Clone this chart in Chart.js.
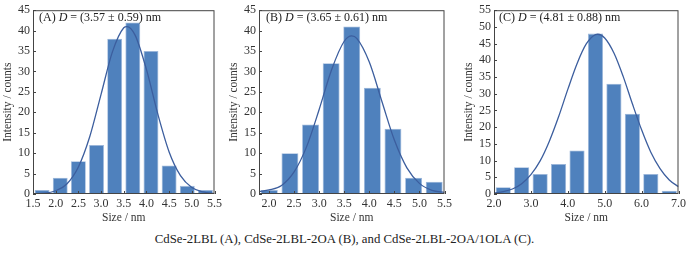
<!DOCTYPE html>
<html>
<head>
<meta charset="utf-8">
<script src="https://cdn.jsdelivr.net/npm/chart.js@4.4.0/dist/chart.umd.min.js"></script>
<style>
  body { margin: 0; background: #fff; }
  #wrap { position: relative; width: 689px; height: 257px; font-family: 'Liberation Serif', serif; color: #222; }
  .panel { position: absolute; top: 0; height: 230px; }
  .note { position: absolute; top: 10px; font-size: 12px; white-space: nowrap; }
  #caption { position: absolute; top: 232px; left: 0; width: 689px; text-align: center; font-size: 12.8px; }
</style>
</head>
<body>
<div id="wrap">
  <div class="panel" style="left:0;width:225px"><canvas id="chartA"></canvas></div>
  <div class="panel" style="left:226px;width:229px"><canvas id="chartB"></canvas></div>
  <div class="panel" style="left:461px;width:228px"><canvas id="chartC"></canvas></div>
  <div class="note" style="left:39px">(A) <i>D</i> = (3.57 ± 0.59) nm</div>
  <div class="note" style="left:266px">(B) <i>D</i> = (3.65 ± 0.61) nm</div>
  <div class="note" style="left:499px">(C) <i>D</i> = (4.81 ± 0.88) nm</div>
  <div id="caption">CdSe-2LBL (A), CdSe-2LBL-2OA (B), and CdSe-2LBL-2OA/1OLA (C).</div>
</div>
<script>
// histogram bins (centres, nm) and counts
const sizesA = [1.7, 2.1, 2.5, 2.9, 3.3, 3.7, 4.1, 4.5, 4.9, 5.3];
const countsA = [1, 4, 8, 12, 38, 42, 35, 7, 2, 1];
const sizesB = [2.006, 2.417, 2.828, 3.239, 3.65, 4.061, 4.472, 4.883, 5.294];
const countsB = [1, 10, 17, 32, 41, 26, 16, 4, 3];
const sizesC = [2.25, 2.75, 3.25, 3.75, 4.25, 4.75, 5.25, 5.75, 6.25, 6.75];
const countsC = [2, 8, 6, 9, 13, 48, 33, 24, 6, 1];

// fitted curves
const fitXA = [1.5, 1.75, 2.0, 2.25, 2.5, 2.75, 3.0, 3.25, 3.5, 3.57, 3.75, 4.0, 4.25, 4.5, 4.75, 5.0, 5.25, 5.5];
const fitYA = [0.1, 0.2, 0.8, 2.5, 6.6, 14.0, 24.4, 34.8, 40.7, 41.0, 38.9, 30.5, 19.6, 10.3, 4.5, 1.6, 0.5, 0.1];
const fitXB = [1.8, 2.0, 2.25, 2.5, 2.75, 3.0, 3.25, 3.5, 3.65, 3.75, 4.0, 4.25, 4.5, 4.75, 5.0, 5.25, 5.5];
const fitYB = [0.6, 1.0, 2.1, 5.4, 11.6, 20.7, 30.5, 37.4, 38.7, 38.1, 32.3, 22.7, 13.2, 6.4, 2.6, 0.9, 0.4];
const fitXC = [2.0, 2.25, 2.5, 2.75, 3.0, 3.25, 3.5, 3.75, 4.0, 4.25, 4.5, 4.75, 4.81, 5.0, 5.25, 5.5, 5.75, 6.0, 6.25, 6.5, 6.75, 7.0];
const fitYC = [0.3, 0.7, 1.5, 3.1, 5.8, 9.9, 15.8, 23.1, 31.3, 39.0, 44.9, 47.7, 47.8, 46.7, 42.2, 35.2, 27.0, 19.2, 12.5, 7.6, 4.2, 2.2];

// axis ticks
const xTicksA = [1.5, 2.0, 2.5, 3.0, 3.5, 4.0, 4.5, 5.0, 5.5];
const xTicksB = [2.0, 2.5, 3.0, 3.5, 4.0, 4.5, 5.0, 5.5];
const xTicksC = [2.0, 3.0, 4.0, 5.0, 6.0, 7.0];
const yTicksAB = [0, 5, 10, 15, 20, 25, 30, 35, 40, 45];
const yTicksC = [0, 5, 10, 15, 20, 25, 30, 35, 40, 45, 50, 55];

const TICK_FONT = { family: "'Liberation Serif', serif", size: 12 };
const TITLE_FONT = { family: "'Liberation Serif', serif", size: 11.5 };
const INK = '#333';

// frame round the plot plus short inward ticks
const framePlugin = {
    id: 'frame',
    afterDatasetsDraw(chart) {
        const { ctx, chartArea: a, scales } = chart;
        ctx.save();
        ctx.strokeStyle = '#444';
        ctx.lineWidth = 1;
        ctx.strokeRect(a.left + 0.5, a.top + 0.5, a.right - a.left - 1, a.bottom - a.top - 1);
        ctx.beginPath();
        scales.x.ticks.forEach(t => {
            const px = Math.round(scales.x.getPixelForValue(t.value)) + 0.5;
            ctx.moveTo(px, a.bottom);
            ctx.lineTo(px, a.bottom - 3);
        });
        scales.y.ticks.forEach(t => {
            const py = Math.round(scales.y.getPixelForValue(t.value)) + 0.5;
            ctx.moveTo(a.left, py);
            ctx.lineTo(a.left + 3, py);
        });
        ctx.stroke();
        ctx.restore();
    }
};

function makeChart(id, sizes, counts, fitX, fitY, xMin, xMax, xTicks, yMax, yTicks, padRight) {
    const ctx = document.getElementById(id).getContext('2d');
    const config = {
        type: 'bar',
        data: {
            datasets: [
                {
                    type: 'line',
                    data: fitX.map((x, i) => ({ x: x, y: fitY[i] })),
                    borderColor: '#3c5e9e',
                    borderWidth: 1.3,
                    pointRadius: 0,
                    cubicInterpolationMode: 'monotone',
                    order: 0,
                },
                {
                    data: sizes.map((x, i) => ({ x: x, y: counts[i] })),
                    backgroundColor: '#4f81bd',
                    borderColor: '#9cb6da',
                    borderWidth: 0.8,
                    barPercentage: 0.82,
                    categoryPercentage: 1,
                    order: 1,
                }
            ]
        },
        options: {
            responsive: true,
            maintainAspectRatio: false,
            animation: false,
            layout: { padding: { top: 10, right: padRight, left: 0, bottom: 0 } },
            plugins: {
                legend: { display: false },
                tooltip: { enabled: false },
            },
            scales: {
                x: {
                    type: 'linear',
                    offset: false,
                    min: xMin,
                    max: xMax,
                    grid: { display: false, drawTicks: false },
                    border: { display: false },
                    afterBuildTicks: s => { s.ticks = xTicks.map(v => ({ value: v })); },
                    afterFit: s => { s.height = 36; },
                    ticks: {
                        font: TICK_FONT,
                        color: INK,
                        padding: 3,
                        maxRotation: 0,
                        autoSkip: false,
                        callback: v => v.toFixed(1),
                    },
                    title: {
                        display: true,
                        text: 'Size / nm',
                        font: TITLE_FONT,
                        color: INK,
                        padding: { top: 0, bottom: 5 },
                    }
                },
                y: {
                    min: 0,
                    max: yMax,
                    grid: { display: false, drawTicks: false },
                    border: { display: false },
                    afterBuildTicks: s => { s.ticks = yTicks.map(v => ({ value: v })); },
                    afterFit: s => { s.width = 33; },
                    ticks: {
                        font: TICK_FONT,
                        color: INK,
                        padding: 3,
                        autoSkip: false,
                    },
                    title: {
                        display: true,
                        text: 'Intensity / counts',
                        font: TITLE_FONT,
                        color: INK,
                        padding: { top: 1, bottom: 0 },
                    }
                }
            }
        },
        plugins: [framePlugin],
    };
    new Chart(ctx, config);
}

makeChart('chartA', sizesA, countsA, fitXA, fitYA, 1.5, 5.5, xTicksA, 45, yTicksAB, 9);
makeChart('chartB', sizesB, countsB, fitXB, fitYB, 1.8, 5.5, xTicksB, 45, yTicksAB, 10);
makeChart('chartC', sizesC, countsC, fitXC, fitYC, 2.0, 7.0, xTicksC, 55, yTicksC, 10);
</script>
</body>
</html>
